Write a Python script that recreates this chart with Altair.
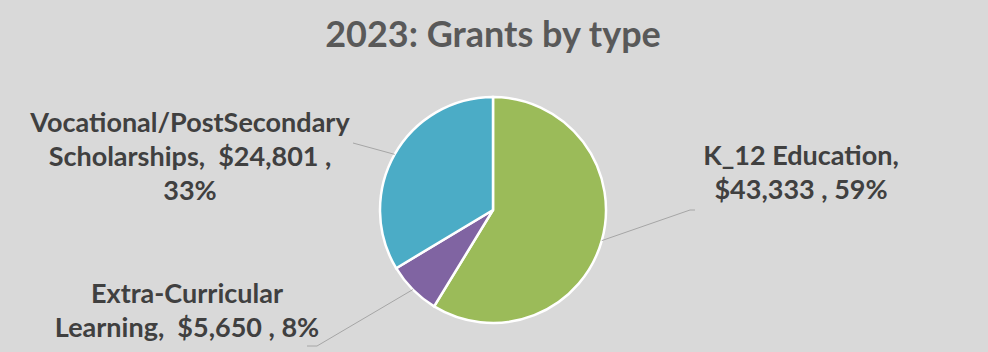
import altair as alt
import pandas as pd

# ---- data ----
categories = ["K_12 Education", "Extra-Curricular Learning", "Vocational/PostSecondary Scholarships"]
amounts = [43333, 5650, 24801]
NB = "\u00a0"
label_texts = [
    "K_12 Education,\n$43,333 , 59%",
    f"Extra-Curricular\nLearning,{NB}{NB}$5,650 , 8%",
    f"Vocational/PostSecondary\nScholarships,{NB}{NB}$24,801 ,\n33%",
]
colors = ["#9bbb59", "#8064a2", "#4bacc6"]
title_text = "2023: Grants by type"

# ---- layout ----
W, H = 988, 352
CX, CY, R = 493, 210, 113
label_x = [801, 187, 190]
label_y = [165, 303, 132]
elbow_x = [690, 317, 353]
elbow_y = [210, 346, 143]
tail_x = [695, 307, 353]
FONT = "Lato"

df = pd.DataFrame({
    "category": categories,
    "amount": amounts,
    "order": list(range(len(categories))),
    "label": label_texts,
    "lx": label_x,
    "ly": label_y,
    "ex": elbow_x,
    "ey": elbow_y,
    "tx": tail_x,
})

base = alt.Chart(df)

pie = base.mark_arc(outerRadius=R, stroke="white", strokeWidth=2.5).encode(
    theta=alt.Theta("amount:Q", stack=True),
    color=alt.Color("category:N", scale=alt.Scale(domain=categories, range=colors), legend=None),
    order=alt.Order("order:Q"),
    x=alt.value(CX),
    y=alt.value(CY),
)

leader_src = base.transform_joinaggregate(
    total="sum(amount)"
).transform_window(
    cum="sum(amount)", sort=[alt.SortField("order")]
).transform_calculate(
    mid="2*PI*(datum.cum - datum.amount/2)/datum.total"
).transform_calculate(
    sx=f"{CX} + {R}*sin(datum.mid)",
    sy=f"{CY} - {R}*cos(datum.mid)",
)

leaders = leader_src.mark_rule(color="#a6a6a6", strokeWidth=1).encode(
    x=alt.X("sx:Q", scale=None),
    y=alt.Y("sy:Q", scale=None),
    x2=alt.X2("ex:Q"),
    y2=alt.Y2("ey:Q"),
)

tails = base.mark_rule(color="#a6a6a6", strokeWidth=1).encode(
    x=alt.X("ex:Q", scale=None),
    y=alt.Y("ey:Q", scale=None),
    x2=alt.X2("tx:Q"),
)

labels = base.mark_text(
    font=FONT, fontSize=27, fontWeight="bold", color="#404040",
    align="center", baseline="alphabetic", lineBreak="\n", lineHeight=34,
).encode(
    x=alt.X("lx:Q", scale=None),
    y=alt.Y("ly:Q", scale=None),
    text="label:N",
)

title = alt.Chart(pd.DataFrame({"t": [title_text]})).mark_text(
    font=FONT, fontSize=36, fontWeight="bold", color="#595959",
    align="center", baseline="alphabetic",
).encode(
    x=alt.value(493), y=alt.value(47), text="t:N",
)

chart = alt.layer(pie, leaders, tails, labels, title).properties(
    width=W, height=H, autosize=alt.AutoSizeParams(type="none"), padding=0,
    background="#d9d9d9",
).configure_view(stroke=None)

chart.save("out.html", embed_options={"renderer": "svg", "actions": False})
